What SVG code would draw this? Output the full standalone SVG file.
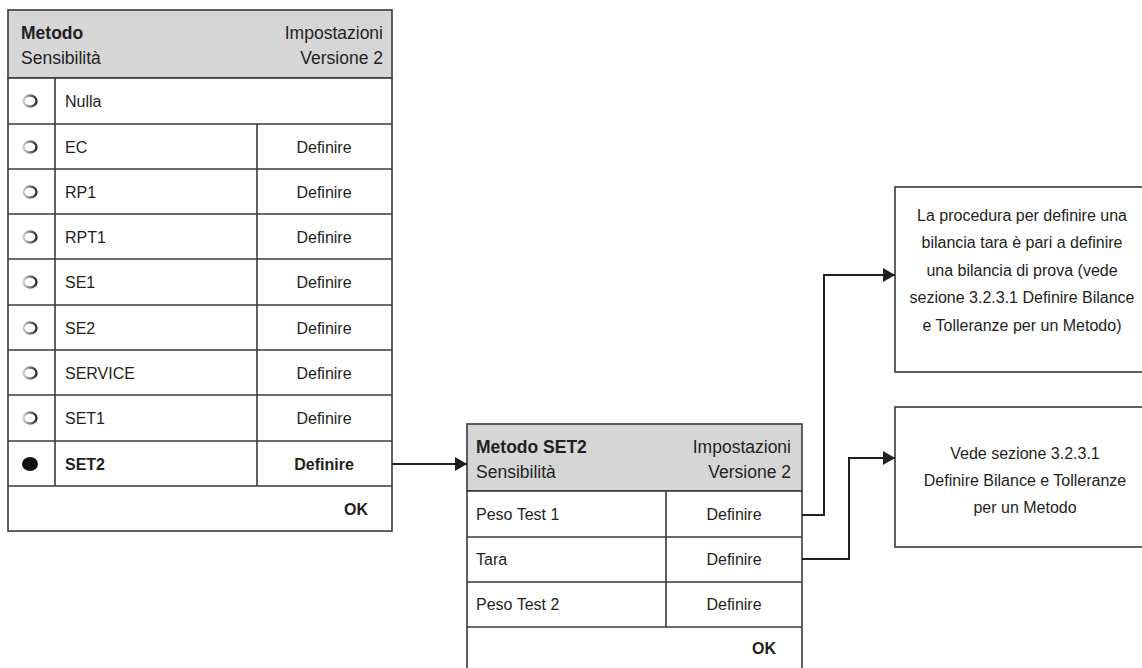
<svg xmlns="http://www.w3.org/2000/svg" width="1142" height="668" viewBox="0 0 1142 668">
<style>
  text { font-family: "Liberation Sans", Arial, sans-serif; fill: #231f20; }
  .t { font-size: 16px; }
  .h { font-size: 17.5px; }
  .b { font-weight: bold; }
  .c { text-anchor: middle; }
  .r { text-anchor: end; }
  .box { fill: #ffffff; stroke: #3a3a3a; stroke-width: 1.6; }
  .hdr { fill: #d6d6d6; stroke: #3a3a3a; stroke-width: 1.6; }
  .ln { stroke: #3a3a3a; stroke-width: 1.6; fill: none; }
  .conn { stroke: #231f20; stroke-width: 2; fill: none; }
  .radio { fill: #ffffff; stroke: url(#rg); stroke-width: 2.4; }
</style>
<defs>
  <linearGradient id="rg" x1="0" y1="0" x2="1" y2="0">
    <stop offset="0" stop-color="#cfcfcf"/>
    <stop offset="1" stop-color="#2a2a2a"/>
  </linearGradient>
  <marker id="arr" viewBox="0 0 12 14" refX="12" refY="7" markerWidth="12" markerHeight="14" markerUnits="userSpaceOnUse" orient="auto">
    <path d="M0,0 L12,7 L0,14 Z" fill="#231f20"/>
  </marker>
</defs>

<g id="panel-metodo">
  <rect class="hdr" x="8" y="10" width="384" height="68"/>
  <text class="h b" x="21" y="39">Metodo</text>
  <text class="h" x="21" y="64">Sensibilità</text>
  <text class="h r" x="383" y="39">Impostazioni</text>
  <text class="h r" x="383" y="64">Versione 2</text>
  <rect class="box" x="8" y="78" width="384" height="453"/>
  <path class="ln" d="M8,124 H392 M8,169 H392 M8,214 H392 M8,259 H392 M8,305 H392 M8,350 H392 M8,395 H392 M8,441 H392 M8,486 H392 M55,78 V486 M257,124 V486"/>
  <ellipse class="radio" cx="30" cy="101" rx="6.5" ry="5.5"/>
  <text class="t" x="65" y="107">Nulla</text>
  <ellipse class="radio" cx="30" cy="147" rx="6.5" ry="5.5"/>
  <text class="t" x="65" y="153">EC</text>
  <text class="t c" x="324" y="153">Definire</text>
  <ellipse class="radio" cx="30" cy="192" rx="6.5" ry="5.5"/>
  <text class="t" x="65" y="198">RP1</text>
  <text class="t c" x="324" y="198">Definire</text>
  <ellipse class="radio" cx="30" cy="237" rx="6.5" ry="5.5"/>
  <text class="t" x="65" y="243">RPT1</text>
  <text class="t c" x="324" y="243">Definire</text>
  <ellipse class="radio" cx="30" cy="282" rx="6.5" ry="5.5"/>
  <text class="t" x="65" y="288">SE1</text>
  <text class="t c" x="324" y="288">Definire</text>
  <ellipse class="radio" cx="30" cy="328" rx="6.5" ry="5.5"/>
  <text class="t" x="65" y="334">SE2</text>
  <text class="t c" x="324" y="334">Definire</text>
  <ellipse class="radio" cx="30" cy="373" rx="6.5" ry="5.5"/>
  <text class="t" x="65" y="379">SERVICE</text>
  <text class="t c" x="324" y="379">Definire</text>
  <ellipse class="radio" cx="30" cy="418" rx="6.5" ry="5.5"/>
  <text class="t" x="65" y="424">SET1</text>
  <text class="t c" x="324" y="424">Definire</text>
  <ellipse cx="30" cy="464" rx="8" ry="7" fill="#111111"/>
  <text class="t b" x="65" y="470">SET2</text>
  <text class="t b c" x="324" y="470">Definire</text>
  <text class="t b r" x="368" y="515">OK</text>
</g>

<g id="panel-set2">
  <rect class="hdr" x="467" y="424" width="335" height="67"/>
  <text class="h b" x="476" y="453">Metodo SET2</text>
  <text class="h" x="476" y="478">Sensibilità</text>
  <text class="h r" x="791" y="453">Impostazioni</text>
  <text class="h r" x="791" y="478">Versione 2</text>
  <rect class="box" x="467" y="491" width="335" height="180"/>
  <path class="ln" d="M467,537 H802 M467,582 H802 M467,627 H802 M666,491 V627"/>
  <text class="t" x="476" y="520">Peso Test 1</text>
  <text class="t c" x="734" y="520">Definire</text>
  <text class="t" x="476" y="565">Tara</text>
  <text class="t c" x="734" y="565">Definire</text>
  <text class="t" x="476" y="610">Peso Test 2</text>
  <text class="t c" x="734" y="610">Definire</text>
  <text class="t b r" x="776" y="654">OK</text>
</g>

<g id="note-tara">
  <rect class="box" x="895" y="187" width="260" height="185"/>
  <text class="t c" x="1022" y="221">La procedura per definire una</text>
  <text class="t c" x="1022" y="248">bilancia tara è pari a definire</text>
  <text class="t c" x="1022" y="276">una bilancia di prova (vede</text>
  <text class="t c" x="1022" y="303">sezione 3.2.3.1 Definire Bilance</text>
  <text class="t c" x="1022" y="331">e Tolleranze per un Metodo)</text>
</g>

<g id="note-peso">
  <rect class="box" x="895" y="407" width="260" height="140"/>
  <text class="t c" x="1025" y="459">Vede sezione 3.2.3.1</text>
  <text class="t c" x="1025" y="486">Definire Bilance e Tolleranze</text>
  <text class="t c" x="1025" y="513">per un Metodo</text>
</g>

<g id="connectors">
  <path class="conn" d="M392,464 H467" marker-end="url(#arr)"/>
  <path class="conn" d="M802,515 H824 V275 H895" marker-end="url(#arr)"/>
  <path class="conn" d="M802,559 H849 V458 H895" marker-end="url(#arr)"/>
</g>
</svg>
